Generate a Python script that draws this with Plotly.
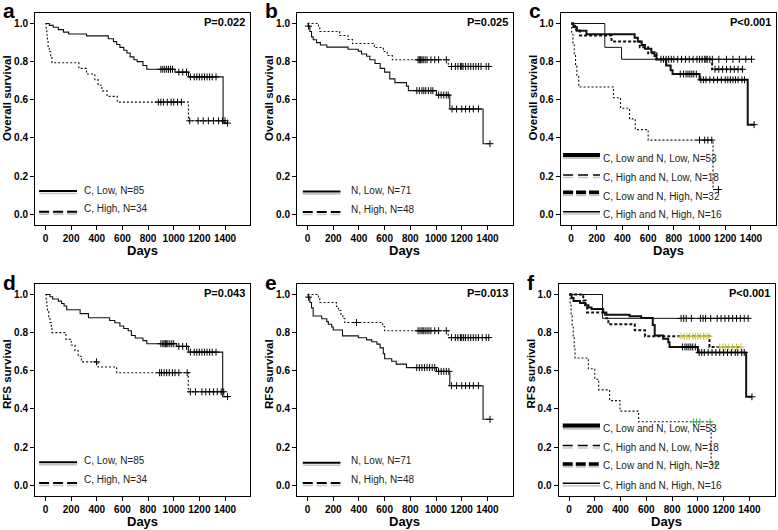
import plotly.graph_objects as go

FONT = "Liberation Sans, Arial, Helvetica, sans-serif"

# ---------------- axis ticks / texts ----------------
DAY_TICKS = [0, 200, 400, 600, 800, 1000, 1200, 1400]
SURV_TICKS = [0.0, 0.2, 0.4, 0.6, 0.8, 1.0]
PANEL_LETTERS = ["a", "b", "c", "d", "e", "f"]
P_VALUES = ["P=0.022", "P=0.025", "P<0.001", "P=0.043", "P=0.013", "P<0.001"]
Y_TITLES = ["Overall survival", "Overall survival", "Overall survival",
            "RFS survival", "RFS survival", "RFS survival"]
X_TITLE = "Days"
LEGEND_C = ["C, Low, N=85", "C, High, N=34"]
LEGEND_N = ["N, Low, N=71", "N, High, N=48"]
LEGEND_CN = ["C, Low and N, Low, N=53", "C, High and N, Low, N=18",
             "C, Low and N, High, N=32", "C, High and N, High, N=16"]

# ---------------- Kaplan-Meier curves (event day, survival, censor days) ----------------
# a: overall survival by C
A_LOW_T = [0, 30, 60, 100, 140, 180, 320, 490, 530, 555, 580, 610, 635, 660, 690, 715, 760, 790, 1010, 1115, 1385]
A_LOW_S = [1.0, 0.99, 0.98, 0.968, 0.955, 0.945, 0.935, 0.92, 0.905, 0.89, 0.875, 0.86, 0.845, 0.825, 0.81, 0.8, 0.78, 0.76, 0.745, 0.72, 0.478]
A_LOW_C = [900, 915, 930, 945, 960, 975, 990, 1040, 1070, 1100, 1130, 1160, 1180, 1200, 1220, 1240, 1260, 1280, 1300, 1330, 1420]
A_HIGH_T = [0, 5, 10, 15, 20, 30, 40, 50, 260, 320, 385, 410, 440, 480, 560, 1115]
A_HIGH_S = [1.0, 0.97, 0.94, 0.91, 0.88, 0.853, 0.824, 0.794, 0.765, 0.735, 0.706, 0.676, 0.647, 0.618, 0.588, 0.49]
A_HIGH_C = [880, 900, 920, 950, 980, 1000, 1030, 1060, 1125, 1190, 1230, 1270, 1310, 1350, 1380, 1400]

# b: overall survival by N
B_LOW_T = [0, 5, 18, 31, 44, 70, 100, 150, 315, 395, 420, 460, 485, 525, 565, 600, 640, 680, 770, 785, 1003, 1107, 1366]
B_LOW_S = [1.0, 0.986, 0.958, 0.93, 0.915, 0.9, 0.887, 0.876, 0.865, 0.855, 0.84, 0.828, 0.81, 0.79, 0.765, 0.745, 0.71, 0.69, 0.672, 0.648, 0.625, 0.552, 0.37]
B_LOW_C = [8, 850, 870, 890, 905, 920, 940, 960, 975, 1020, 1040, 1060, 1080, 1095, 1125, 1160, 1200, 1230, 1260, 1290, 1330, 1420]
B_HIGH_T = [0, 85, 95, 250, 315, 350, 520, 590, 620, 660, 1095]
B_HIGH_S = [1.0, 0.979, 0.958, 0.937, 0.916, 0.895, 0.874, 0.853, 0.832, 0.81, 0.775]
B_HIGH_C = [860, 870, 880, 890, 900, 915, 930, 960, 990, 1020, 1080, 1120, 1150, 1170, 1190, 1200, 1210, 1230, 1250, 1270, 1290, 1310, 1330, 1350, 1390, 1410]

# c: overall survival by C and N combined
C_LL_T = [0, 18, 44, 120, 495, 520, 550, 575, 625, 650, 665, 740, 775, 790, 1000, 1375]
C_LL_S = [1.0, 0.981, 0.962, 0.943, 0.925, 0.906, 0.887, 0.868, 0.849, 0.83, 0.811, 0.78, 0.755, 0.735, 0.705, 0.47]
C_LL_C = [850, 875, 895, 910, 925, 940, 955, 975, 1010, 1030, 1050, 1080, 1110, 1140, 1170, 1200, 1220, 1240, 1260, 1280, 1300, 1330, 1350, 1425]
C_HL_T = [0, 5, 15, 25, 35, 45, 60, 330, 385, 455, 500, 600, 1105]
C_HL_S = [1.0, 0.944, 0.889, 0.833, 0.778, 0.722, 0.667, 0.611, 0.556, 0.5, 0.444, 0.389, 0.13]
C_HL_C = [1000, 1040, 1065, 1095, 1147]
C_LH_T = [0, 30, 70, 315, 535, 600, 665, 1098]
C_LH_S = [1.0, 0.969, 0.9375, 0.906, 0.875, 0.844, 0.8125, 0.76]
C_LH_C = [700, 720, 740, 760, 780, 800, 830, 860, 890, 920, 950, 980, 1020, 1040, 1060, 1080, 1120, 1150, 1180, 1210, 1240, 1270, 1300, 1335]
C_HH_T = [0, 263, 393]
C_HH_S = [1.0, 0.875, 0.8125]
C_HH_C = [1000, 1050, 1100, 1150, 1210, 1260, 1310, 1360, 1405]

# d: RFS by C
D_LOW_T = [0, 35, 55, 100, 125, 145, 165, 270, 335, 500, 540, 580, 610, 645, 670, 700, 760, 790, 1023, 1114, 1382]
D_LOW_S = [1.0, 0.988, 0.976, 0.965, 0.953, 0.94, 0.92, 0.9, 0.878, 0.864, 0.852, 0.835, 0.822, 0.81, 0.785, 0.772, 0.758, 0.742, 0.728, 0.698, 0.465]
D_LOW_C = [900, 915, 925, 935, 945, 955, 970, 985, 1000, 1040, 1070, 1100, 1130, 1160, 1180, 1200, 1220, 1240, 1260, 1280, 1300, 1330, 1420]
D_HIGH_T = [0, 5, 10, 15, 25, 35, 45, 50, 160, 200, 230, 255, 280, 410, 555, 1114]
D_HIGH_S = [1.0, 0.97, 0.94, 0.91, 0.88, 0.853, 0.824, 0.8, 0.765, 0.735, 0.706, 0.676, 0.647, 0.62, 0.59, 0.49]
D_HIGH_C = [398, 890, 905, 925, 945, 965, 990, 1010, 1040, 1105, 1130, 1170, 1220, 1250, 1280, 1310, 1340, 1370, 1390]

# e: RFS by N
E_LOW_T = [0, 5, 18, 31, 44, 110, 150, 162, 188, 200, 272, 395, 460, 500, 540, 565, 590, 600, 655, 690, 770, 1003, 1107, 1366]
E_LOW_S = [1.0, 0.986, 0.958, 0.93, 0.887, 0.873, 0.858, 0.844, 0.83, 0.814, 0.783, 0.773, 0.762, 0.752, 0.74, 0.72, 0.69, 0.663, 0.65, 0.635, 0.617, 0.597, 0.522, 0.346]
E_LOW_C = [8, 850, 870, 890, 910, 930, 950, 970, 990, 1020, 1040, 1060, 1080, 1100, 1120, 1160, 1200, 1230, 1260, 1290, 1330, 1420]
E_HIGH_T = [0, 85, 95, 225, 240, 260, 275, 290, 585, 600, 1095]
E_HIGH_S = [1.0, 0.979, 0.958, 0.937, 0.916, 0.895, 0.874, 0.853, 0.832, 0.81, 0.774]
E_HIGH_C = [381, 860, 875, 890, 900, 915, 930, 945, 960, 990, 1020, 1080, 1120, 1150, 1170, 1190, 1200, 1215, 1230, 1250, 1270, 1290, 1310, 1330, 1360, 1390, 1410]

# f: RFS by C and N combined
F_LL_T = [0, 20, 35, 85, 125, 150, 175, 265, 280, 470, 560, 650, 665, 730, 770, 780, 1000, 1375]
F_LL_S = [1.0, 0.981, 0.966, 0.955, 0.943, 0.932, 0.924, 0.905, 0.894, 0.886, 0.877, 0.84, 0.785, 0.768, 0.75, 0.725, 0.696, 0.464]
F_LL_C = [880, 900, 915, 930, 945, 960, 980, 1010, 1030, 1050, 1080, 1110, 1140, 1170, 1200, 1230, 1260, 1290, 1310, 1340, 1360, 1420]
F_HL_T = [0, 8, 16, 24, 32, 40, 46, 150, 200, 230, 315, 395, 540, 1103]
F_HL_S = [1.0, 0.944, 0.889, 0.833, 0.778, 0.722, 0.667, 0.611, 0.556, 0.5, 0.444, 0.389, 0.333, 0.111]
F_HL_C = [965, 990, 1015, 1095, 1142]
F_LH_T = [0, 110, 130, 140, 290, 305, 510, 590, 1090]
F_LH_S = [1.0, 0.969, 0.938, 0.906, 0.875, 0.844, 0.8125, 0.781, 0.725]
F_LH_C = [870, 895, 915, 935, 960, 980, 1000, 1020, 1045, 1065, 1085, 1170, 1195, 1215, 1240, 1270, 1300, 1335]
F_HH_T = [0, 260]
F_HH_S = [1.0, 0.875]
F_HH_C = [870, 890, 910, 950, 1020, 1040, 1060, 1100, 1150, 1180, 1210, 1240, 1270, 1300, 1330, 1360, 1390]

# ---------------- styles ----------------
W, H = 778, 530
X_RANGE = [-82, 1595]
Y_RANGE = [-0.056, 1.055]

CURVE_STYLE = {
    "low": dict(width=1.1, dash="solid"),
    "high": dict(width=1.1, dash="2px,2px"),
    "ll": dict(width=2.0, dash="solid"),
    "hl": dict(width=1.1, dash="2px,2px"),
    "lh": dict(width=2.0, dash="3px,2px"),
    "hh": dict(width=1.0, dash="solid"),
}
LEGEND_STYLE = {
    "low": dict(width=2, dash="solid"),
    "high": dict(width=2, dash="10px,4px"),
    "ll": dict(width=4, dash="solid"),
    "hl": dict(width=1.5, dash="10px,5px"),
    "lh": dict(width=3.5, dash="10px,3px"),
    "hh": dict(width=1.5, dash="solid"),
}

# panel boxes in pixels: left, right, top, bottom
BOXES = [(35, 250, 13, 225), (297, 512.5, 13, 225), (560.5, 776, 13, 225),
         (35, 250, 284, 496), (297, 512.5, 284, 496), (558.5, 774.5, 284, 496)]

PANELS = [
    dict(curves=[("low", A_LOW_T, A_LOW_S, A_LOW_C, "#000"), ("high", A_HIGH_T, A_HIGH_S, A_HIGH_C, "#000")],
         legend=LEGEND_C, leg_keys=["low", "high"], leg_y=[0.122, 0.014], txt_y=[0.127, 0.028],
         leg_x=[-50, 246], txt_x=285),
    dict(curves=[("low", B_LOW_T, B_LOW_S, B_LOW_C, "#000"), ("high", B_HIGH_T, B_HIGH_S, B_HIGH_C, "#000")],
         legend=LEGEND_N, leg_keys=["low", "high"], leg_y=[0.12, 0.012], txt_y=[0.124, 0.026],
         leg_x=[-37, 256], txt_x=322),
    dict(curves=[("hh", C_HH_T, C_HH_S, C_HH_C, "#000"), ("hl", C_HL_T, C_HL_S, C_HL_C, "#000"),
                 ("lh", C_LH_T, C_LH_S, C_LH_C, "#000"), ("ll", C_LL_T, C_LL_S, C_LL_C, "#000")],
         legend=LEGEND_CN, leg_keys=["ll", "hl", "lh", "hh"], leg_y=[0.311, 0.206, 0.115, 0.014],
         txt_y=[0.294, 0.192, 0.096, -0.002], leg_x=[-62, 225], txt_x=230),
    dict(curves=[("low", D_LOW_T, D_LOW_S, D_LOW_C, "#000"), ("high", D_HIGH_T, D_HIGH_S, D_HIGH_C, "#000")],
         legend=LEGEND_C, leg_keys=["low", "high"], leg_y=[0.121, 0.012], txt_y=[0.131, 0.03],
         leg_x=[-50, 246], txt_x=285),
    dict(curves=[("low", E_LOW_T, E_LOW_S, E_LOW_C, "#000"), ("high", E_HIGH_T, E_HIGH_S, E_HIGH_C, "#000")],
         legend=LEGEND_N, leg_keys=["low", "high"], leg_y=[0.118, 0.012], txt_y=[0.13, 0.03],
         leg_x=[-37, 256], txt_x=322),
    dict(curves=[("hh", F_HH_T, F_HH_S, F_HH_C, "#000"), ("hl", F_HL_T, F_HL_S, F_HL_C, "#3cb84a"),
                 ("lh", F_LH_T, F_LH_S, F_LH_C, "#c9c24a"), ("ll", F_LL_T, F_LL_S, F_LL_C, "#000")],
         legend=LEGEND_CN, leg_keys=["ll", "hl", "lh", "hh"], leg_y=[0.313, 0.208, 0.112, 0.0105],
         txt_y=[0.297, 0.199, 0.105, 0.0], leg_x=[-49, 240], txt_x=245),
]


def step_xy(times, surv, censors):
    end = max(times[-1], max(censors)) if censors else times[-1]
    return list(times) + [end], list(surv) + [surv[-1]]


def surv_at(times, surv, t):
    s = surv[0]
    for ti, si in zip(times, surv):
        if ti <= t:
            s = si
    return s


fig = go.Figure()
annotations = []
shapes = []
layout_axes = {}

for i, (panel, box) in enumerate(zip(PANELS, BOXES)):
    n = i + 1
    suffix = "" if n == 1 else str(n)
    xa, ya = "x" + suffix, "y" + suffix
    l, r, t, b = box
    layout_axes["xaxis" + suffix] = dict(
        domain=[l / W, r / W], range=X_RANGE, anchor=ya, tickvals=DAY_TICKS,
        ticks="outside", ticklen=4, tickcolor="#000", showline=True, linecolor="#000",
        linewidth=1, mirror=True, showgrid=False, zeroline=False,
        tickfont=dict(family=FONT, size=10, color="#000", weight="bold"))
    layout_axes["yaxis" + suffix] = dict(
        domain=[1 - b / H, 1 - t / H], range=Y_RANGE, anchor=xa, tickvals=SURV_TICKS,
        tickformat=".1f", ticks="outside", ticklen=4, tickcolor="#000", showline=True,
        linecolor="#000", linewidth=1, mirror=True, showgrid=False, zeroline=False,
        tickfont=dict(family=FONT, size=10, color="#000", weight="bold"))

    for key, T, S, C, ccol in panel["curves"]:
        st = CURVE_STYLE[key]
        x, y = step_xy(T, S, C)
        fig.add_trace(go.Scatter(x=x, y=y, mode="lines", xaxis=xa, yaxis=ya,
                                 line=dict(shape="hv", color="#111", width=st["width"], dash=st["dash"]),
                                 showlegend=False, hoverinfo="skip"))
        fig.add_trace(go.Scatter(x=C, y=[surv_at(T, S, c) for c in C], mode="markers",
                                 xaxis=xa, yaxis=ya,
                                 marker=dict(symbol="cross-thin", size=5,
                                             line=dict(width=1, color=ccol)),
                                 showlegend=False, hoverinfo="skip"))

    # legend samples and labels
    for key, label, ly, ty in zip(panel["leg_keys"], panel["legend"], panel["leg_y"], panel["txt_y"]):
        ls = LEGEND_STYLE[key]
        shapes.append(dict(type="line", xref=xa, yref=ya, x0=panel["leg_x"][0], x1=panel["leg_x"][1],
                           y0=ly - 0.013, y1=ly - 0.013,
                           line=dict(color="#c4c4c4", width=max(1.5, ls["width"] * 0.8), dash=ls["dash"])))
        shapes.append(dict(type="line", xref=xa, yref=ya, x0=panel["leg_x"][0], x1=panel["leg_x"][1],
                           y0=ly, y1=ly, line=dict(color="#000", width=ls["width"], dash=ls["dash"])))
        annotations.append(dict(text=label, xref=xa, yref=ya, x=panel["txt_x"], y=ty,
                                xanchor="left", yanchor="middle", showarrow=False,
                                font=dict(family=FONT, size=10, color="#222")))

    # P value
    annotations.append(dict(text=P_VALUES[i], xref=xa + " domain", yref=ya + " domain", x=0.988, y=0.995,
                            xanchor="right", yanchor="top", showarrow=False,
                            font=dict(family=FONT, size=11, color="#000", weight="bold")))
    # panel letter
    annotations.append(dict(text=PANEL_LETTERS[i], xref="paper", yref="paper",
                            x=(l - 34) / W if i % 3 else 1 / W, y=1 - (t - 2) / H,
                            xanchor="left", yanchor="middle", showarrow=False,
                            font=dict(family=FONT, size=21, color="#000", weight="bold")))
    # x title
    annotations.append(dict(text=X_TITLE, xref="paper", yref="paper", x=(l + r) / 2 / W,
                            y=1 - (b + 25.5) / H, xanchor="center", yanchor="middle", showarrow=False,
                            font=dict(family=FONT, size=13, color="#000", weight="bold")))
    # y title
    ycenter = 98 if i < 3 else 374
    annotations.append(dict(text=Y_TITLES[i], xref="paper", yref="paper", x=(l - 28) / W,
                            y=1 - ycenter / H, xanchor="center", yanchor="middle", textangle=-90,
                            showarrow=False,
                            font=dict(family=FONT, size=11.5, color="#000", weight="bold")))

fig.update_layout(width=W, height=H, margin=dict(l=0, r=0, t=0, b=0),
                  paper_bgcolor="white", plot_bgcolor="white",
                  annotations=annotations, shapes=shapes, **layout_axes)

fig.write_html("out.html", config={"displayModeBar": False},
               post_script="document.body.style.margin='0';document.body.style.overflow='hidden';")
